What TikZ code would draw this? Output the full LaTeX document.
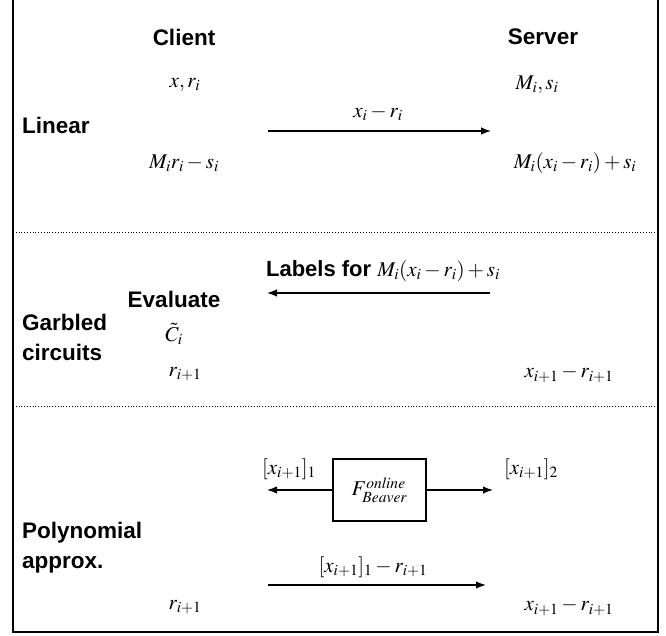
\documentclass[tikz,border=0pt]{standalone}
\usepackage{mathptmx}
\usepackage{fontspec}
\setsansfont{Liberation Sans}
\usetikzlibrary{arrows.meta}
\tikzset{
  hdr/.style={font=\sffamily\bfseries\fontsize{22.5}{26}\selectfont, inner sep=0pt},
  row/.style={font=\sffamily\bfseries\fontsize{22.5}{30}\selectfont, inner sep=0pt, anchor=west, align=left},
  mth/.style={font=\fontsize{21}{24}\selectfont, inner sep=0pt},
  msg/.style={line width=1.4pt, -{Latex[length=10pt,width=7.5pt]}},
  sep/.style={dotted, line width=0.8pt},
  frame/.style={line width=1.3pt},
  fbox/.style={draw, line width=1.3pt, minimum width=93pt, minimum height=62pt, inner sep=0pt, font=\fontsize{21}{24}\selectfont}
}
\begin{document}
\begin{tikzpicture}[x=1pt,y=-1pt]
\useasboundingbox (0,0) rectangle (666,636);
\draw[frame] (13,-2) -- (13,632) -- (658,632) -- (658,-2);
\draw[sep] (13,232) -- (658,232);
\draw[sep] (13,406) -- (658,406);

% headers
\node[hdr] (client) at (184,37) {Client};
\node[hdr] (server) at (543,37) {Server};

% Linear
\node[row] (lin) at (22,125) {Linear};
\node[mth] (xr) at (185,85) {$x, r_i$};
\node[mth] (ms) at (537,85) {$M_i, s_i$};
\node[mth] (c1) at (184,163) {$M_i r_i - s_i$};
\node[mth] (s1) at (575,163) {$M_i(x_i - r_i) + s_i$};
\coordinate (a1s) at (268,131);
\coordinate (a1e) at (491,131);
\draw[msg] (a1s) -- (a1e);
\node[mth] (l1) at (378,113) {$x_i - r_i$};

% Garbled circuits
\node[row] (gc) at (22,337) {Garbled\\circuits};
\node[font=\sffamily\bfseries\fontsize{22}{26}\selectfont, inner sep=0pt, align=left] (lab) at (383,271) {Labels for \normalfont\fontsize{21}{24}\selectfont$M_i(x_i - r_i) + s_i$};
\coordinate (a2s) at (490,293);
\coordinate (a2e) at (267,293);
\draw[msg] (a2s) -- (a2e);
\node[hdr] (ev) at (174,299) {Evaluate};
\node[mth] (ct) at (174,334) {$\tilde{C}_i$};
\node[mth] (c2) at (185,374) {$r_{i+1}$};
\node[mth] (s2) at (569,374) {$x_{i+1} - r_{i+1}$};

% Polynomial approx
\node[row] (pa) at (22,548) {Polynomial\\approx.};
\node[fbox] (bv) at (379.5,490) {$F^{\mathit{online}}_{\mathit{Beaver}}$};
\coordinate (b1) at (267,490);
\coordinate (b2) at (493,490);
\draw[msg] (bv.west) -- (b1);
\draw[msg] (bv.east) -- (b2);
\node[mth] (sh1) at (289,469) {$[x_{i+1}]_1$};
\node[mth] (sh2) at (531,469) {$[x_{i+1}]_2$};
\coordinate (a3s) at (268,585);
\coordinate (a3e) at (486,585);
\draw[msg] (a3s) -- (a3e);
\node[mth] (l3) at (373,567) {$[x_{i+1}]_1 - r_{i+1}$};
\node[mth] (c3) at (185,607) {$r_{i+1}$};
\node[mth] (s3) at (569,607) {$x_{i+1} - r_{i+1}$};
\end{tikzpicture}
\end{document}
